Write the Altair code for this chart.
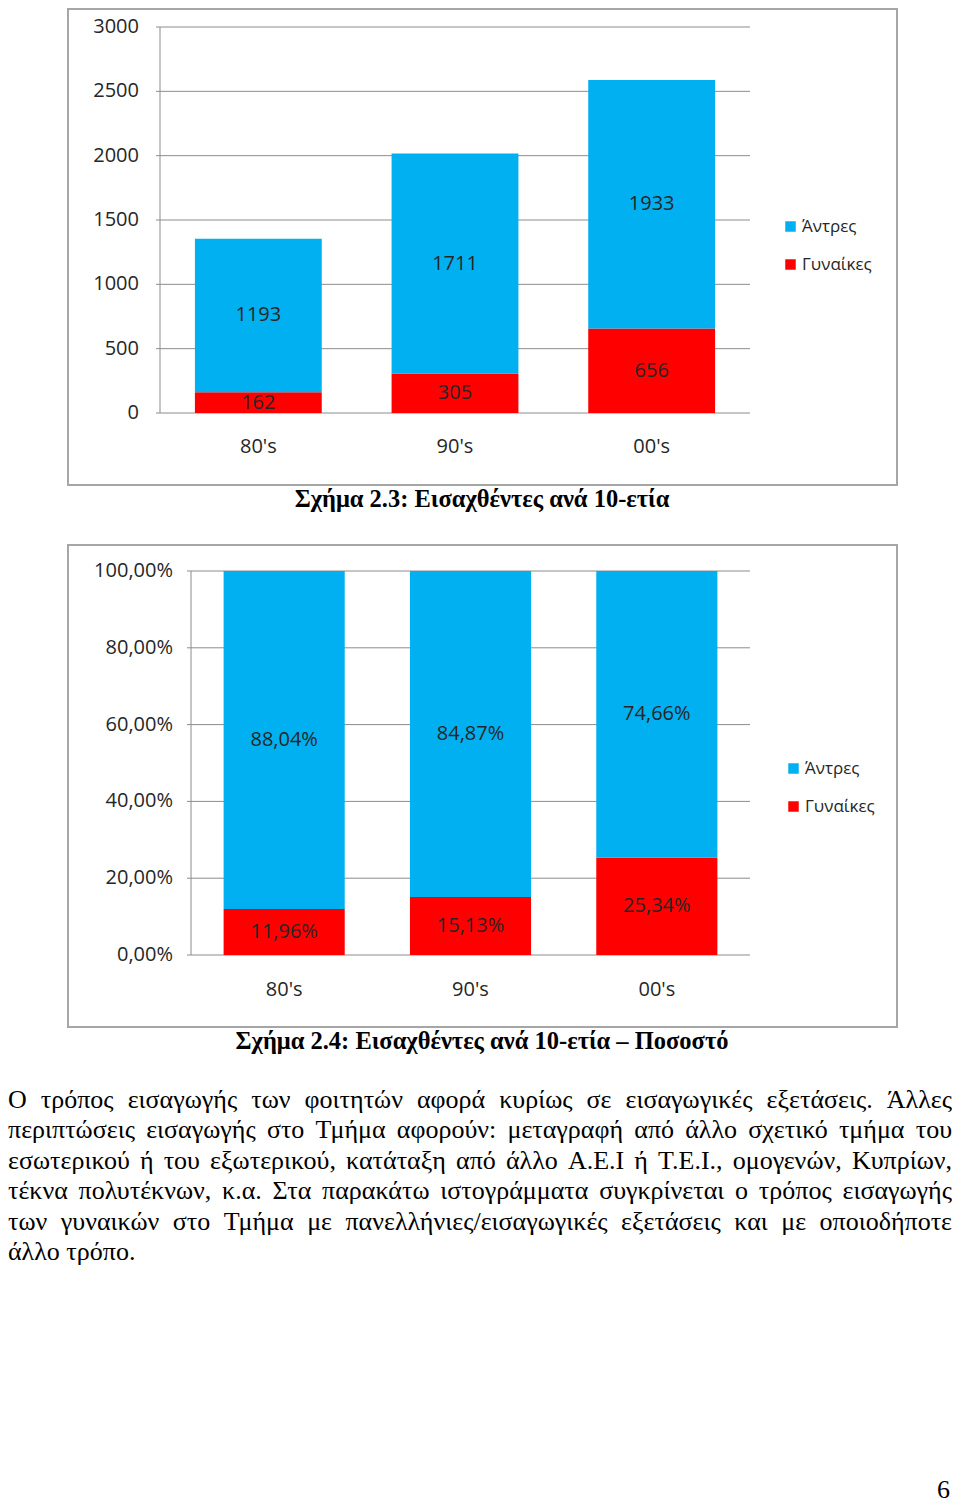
import glob
import altair as alt
import pandas as pd

# ---------------- data ----------------
decades = ["80's", "90's", "00's"]
series = ["Άντρες", "Γυναίκες"]
series_colors = ["#00b0f0", "#ff0000"]
men_count = [1193, 1711, 1933]
women_count = [162, 305, 656]
men_pct = [88.04, 84.87, 74.66]
women_pct = [11.96, 15.13, 25.34]
count_ticks = [0, 500, 1000, 1500, 2000, 2500, 3000]
count_tick_labels = ["0", "500", "1000", "1500", "2000", "2500", "3000"]
pct_ticks = [0, 20, 40, 60, 80, 100]
pct_tick_labels = ["0,00%", "20,00%", "40,00%", "60,00%", "80,00%", "100,00%"]
caption1 = "Σχήμα 2.3: Εισαχθέντες ανά 10-ετία"
caption2 = "Σχήμα 2.4: Εισαχθέντες ανά 10-ετία – Ποσοστό"
paragraph_lines = [
    "Ο τρόπος εισαγωγής των φοιτητών αφορά κυρίως σε εισαγωγικές εξετάσεις. Άλλες",
    "περιπτώσεις εισαγωγής στο Τμήμα αφορούν: μεταγραφή από άλλο σχετικό τμήμα του",
    "εσωτερικού ή του εξωτερικού, κατάταξη από άλλο Α.Ε.Ι ή Τ.Ε.Ι., ομογενών, Κυπρίων,",
    "τέκνα πολυτέκνων, κ.α. Στα παρακάτω ιστογράμματα συγκρίνεται ο τρόπος εισαγωγής",
    "των γυναικών στο Τμήμα με πανελλήνιες/εισαγωγικές εξετάσεις και με οποιοδήποτε",
    "άλλο τρόπο.",
]
page_number = "6"

FONT = "Open Sans"
SERIF = "Liberation Serif"
TXT = "#262626"
GRID = "#8c8c8c"
FRAME = "#a6a6a6"
W, H = 944, 1496
PARA_SIZE = 26
PARA_LINE = 30.4
PARA_TOP = 1100  # baseline of first line (plot coords)


def make_rows(men, women, fmt):
    out = []
    for d, m, w in zip(decades, men, women):
        out.append({"decade": d, "series": series[1], "ord": 0, "value": w, "label": fmt(w)})
        out.append({"decade": d, "series": series[0], "ord": 1, "value": m, "label": fmt(m)})
    return pd.DataFrame(out)


def panel(df, ticks, tick_labels, ymax, xr, yr, pad, tick_x, xlab_y, leg_xy, frame_box):
    X = alt.Scale(domain=decades, range=xr, paddingInner=pad, paddingOuter=pad / 2)
    Y = alt.Scale(domain=[0, ymax], range=yr, nice=False, zero=True)
    x_enc = alt.X("decade:N", scale=X, axis=None)

    fx0, fx1, fy0, fy1 = frame_box
    frame = alt.Chart(pd.DataFrame({"k": [0]})).mark_rect(
        fill="white", stroke=FRAME, strokeWidth=2
    ).encode(x=alt.value(fx0), x2=alt.value(fx1), y=alt.value(fy0), y2=alt.value(fy1))

    tick_df = pd.DataFrame({"tick": ticks, "lab": tick_labels})
    grid = alt.Chart(tick_df).mark_rule(color=GRID, strokeWidth=1).encode(
        y=alt.Y("tick:Q", scale=Y, axis=None),
        x=alt.value(xr[0] - 4),
        x2=alt.value(xr[1]),
    )
    vaxis = alt.Chart(pd.DataFrame({"y0": [0], "y1": [ymax]})).mark_rule(
        color=GRID, strokeWidth=1
    ).encode(
        y=alt.Y("y0:Q", scale=Y, axis=None),
        y2="y1:Q",
        x=alt.value(xr[0]),
    )
    tick_text = alt.Chart(tick_df).mark_text(
        align="right", baseline="middle", font=FONT, fontSize=20, color=TXT
    ).encode(
        y=alt.Y("tick:Q", scale=Y, axis=None),
        x=alt.value(tick_x),
        text="lab:N",
    )
    xlabels = alt.Chart(pd.DataFrame({"decade": decades})).mark_text(
        align="center", baseline="middle", font=FONT, fontSize=20, color=TXT
    ).encode(x=x_enc, y=alt.value(xlab_y), text="decade:N")

    bars = alt.Chart(df).mark_bar().encode(
        x=x_enc,
        y=alt.Y("value:Q", scale=Y, axis=None, stack="zero"),
        color=alt.Color(
            "series:N",
            scale=alt.Scale(domain=series, range=series_colors),
            legend=alt.Legend(
                orient="none",
                legendX=leg_xy[0],
                legendY=leg_xy[1],
                title=None,
                symbolType="square",
                symbolSize=110,
                symbolStrokeWidth=0,
                labelFont=FONT,
                labelFontSize=17,
                labelColor=TXT,
                rowPadding=20,
                labelOffset=3,
                padding=0,
            ),
        ),
        order=alt.Order("ord:Q"),
    )
    labels = alt.Chart(df).transform_stack(
        stack="value",
        groupby=["decade"],
        as_=["v0", "v1"],
        sort=[alt.SortField("ord", order="ascending")],
    ).transform_calculate(mid="(datum.v0 + datum.v1) / 2").mark_text(
        align="center", baseline="middle", font=FONT, fontSize=20, color=TXT
    ).encode(x=x_enc, y=alt.Y("mid:Q", scale=Y, axis=None), text="label:N")

    return alt.layer(frame, grid, vaxis, bars, labels, tick_text, xlabels)


# ---------- paragraph layout (justified when font metrics are available) ----------
measure = None
try:
    from PIL import ImageFont
    paths = glob.glob("/usr/share/fonts/**/LiberationSerif-Regular.ttf", recursive=True)
    if paths:
        _f = ImageFont.truetype(paths[0], PARA_SIZE * 10)
        measure = lambda s: _f.getlength(s) / 10.0
except Exception:
    measure = None

words = []
for i, line in enumerate(paragraph_lines):
    y = PARA_TOP + i * PARA_LINE
    last = i == len(paragraph_lines) - 1
    if measure is None or last:
        words.append({"w": line, "px": 0.0, "py": y})
        continue
    parts = line.split(" ")
    widths = [measure(p) for p in parts]
    gap = (W - sum(widths)) / (len(parts) - 1)
    x = 0.0
    for p, wd in zip(parts, widths):
        words.append({"w": p, "px": x, "py": y})
        x += wd + gap
words_df = pd.DataFrame(words)

df1 = make_rows(men_count, women_count, lambda v: f"{v}")
df2 = make_rows(men_pct, women_pct, lambda v: f"{v:.2f}".replace(".", ",") + "%")

p1 = panel(df1, count_ticks, count_tick_labels, 3000, [152, 742], [405, 19], 0.355,
           131, 439, (774, 210), (60, 889, 1, 477))
p2 = panel(df2, pct_ticks, pct_tick_labels, 100, [183, 742], [947, 563], 0.35,
           165, 982, (777, 752), (60, 889, 537, 1019))

one = pd.DataFrame({"k": [0]})
cap1 = alt.Chart(one).mark_text(
    text=caption1, font=SERIF, fontWeight="bold", fontSize=24.5, align="center",
    baseline="middle", color="black"
).encode(x=alt.value(474), y=alt.value(492))
cap2 = alt.Chart(one).mark_text(
    text=caption2, font=SERIF, fontWeight="bold", fontSize=24.5, align="center",
    baseline="middle", color="black"
).encode(x=alt.value(474), y=alt.value(1034))
para = alt.Chart(words_df).mark_text(
    font=SERIF, fontSize=PARA_SIZE, align="left", baseline="alphabetic", color="black"
).encode(
    x=alt.X("px:Q", scale=None, axis=None),
    y=alt.Y("py:Q", scale=None, axis=None),
    text="w:N",
)
pnum = alt.Chart(one).mark_text(
    text=page_number, font=SERIF, fontSize=26, align="right",
    baseline="alphabetic", color="black"
).encode(x=alt.value(942), y=alt.value(1490))

chart = alt.layer(p1, p2, cap1, cap2, para, pnum).resolve_scale(
    x="independent", y="independent", color="independent"
).properties(
    width=W, height=H, padding=0, autosize=alt.AutoSizeParams(type="none")
).configure_view(stroke=None)

chart.save("out.html", embed_options={"renderer": "svg", "actions": False})
